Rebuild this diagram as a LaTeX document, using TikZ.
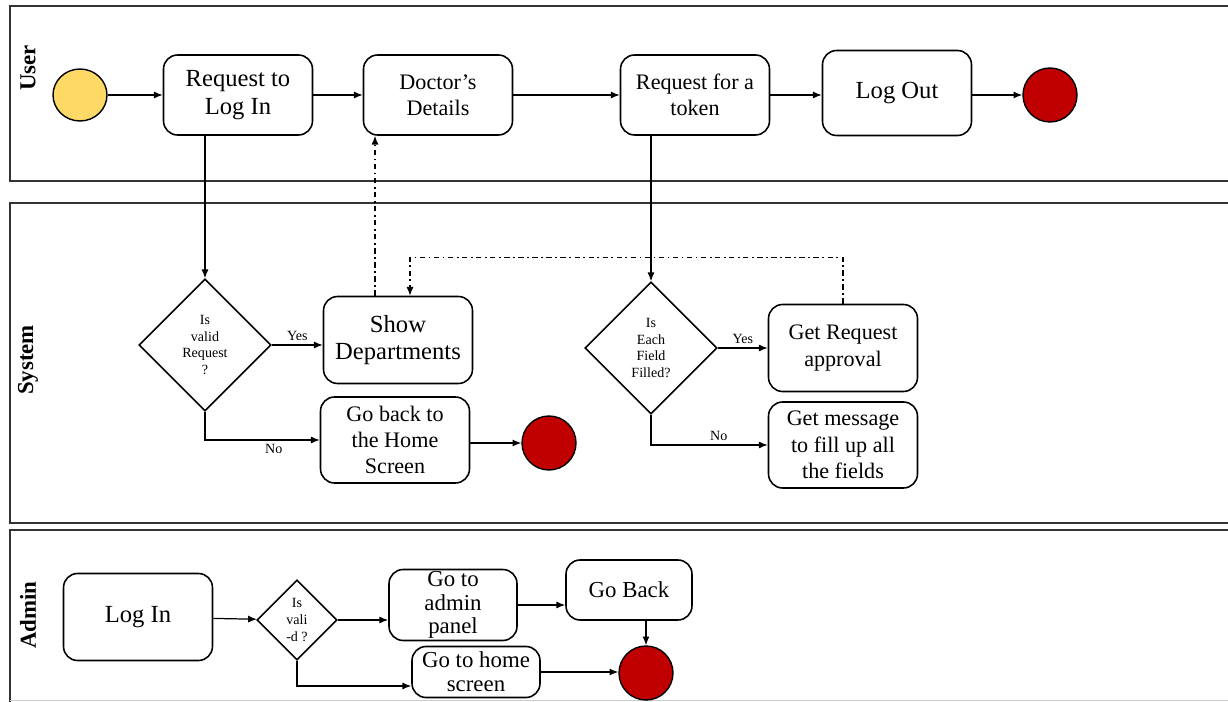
\documentclass[tikz,border=0pt]{standalone}
\usepackage{fontspec}
\setmainfont{Liberation Serif}
\usetikzlibrary{shapes.geometric,arrows.meta}
\definecolor{startyellow}{RGB}{255,217,102}
\definecolor{endred}{RGB}{192,0,0}

\begin{document}
\begin{tikzpicture}[x=0.02cm,y=-0.02cm,
		lane/.style={line width=1pt,draw=black!80},
		lanelabel/.style={rotate=90,font=\fontsize{13}{14}\selectfont\bfseries},
		box/.style={draw,line width=0.9pt,rounded corners=8pt,align=center,inner sep=1pt,
			font=\fontsize{14}{15.5}\selectfont,minimum width=2.98cm},
		boxsmalltext/.style={box,font=\fontsize{12.6}{15}\selectfont},
		smallbox/.style={box,font=\fontsize{13}{13.5}\selectfont,minimum width=2.56cm},
		decision/.style={draw,diamond,line width=0.9pt,align=center,inner sep=0pt,
			font=\fontsize{8}{9.5}\selectfont},
		startnode/.style={draw,ellipse,line width=0.8pt,fill=startyellow,minimum width=1.08cm,minimum height=1.04cm},
		endnode/.style={draw,circle,line width=0.8pt,fill=endred,minimum size=1.08cm},
		flow/.style={line width=0.7pt,-{Latex[length=5pt,width=4pt]}},
		msg/.style={flow,dash pattern=on 3pt off 2pt on 1pt off 2pt},
		lbl/.style={font=\fontsize{8}{9}\selectfont,inner sep=2pt}]
		\useasboundingbox (0,0) rectangle (1228,702);
		% lanes
		\draw[lane] (1228,6) -- (10,6) -- (10,181) -- (1228,181);
		\draw[lane] (1228,203) -- (10,203) -- (10,523) -- (1228,523);
		\draw[lane] (1228,530) -- (10,530) -- (10,702);
		\draw[gray!40,line width=0.5pt] (10,700) -- (1228,700);
		\node[lanelabel] (userlbl) at (28,68) {User};
		\node[lanelabel] (systemlbl) at (28,360) {System};
		\node[lanelabel] (adminlbl) at (28,615) {Admin};
		% user lane
		\node[startnode] (start) at (80,95) {};
		\node[box,minimum height=1.6cm] (login) at (238,95) {Request to\\Log In};
		\node[boxsmalltext,minimum height=1.6cm] (doctor) at (438,95) {Doctor’s\\Details};
		\node[boxsmalltext,minimum height=1.6cm] (token) at (695,95) {Request for a\\token};
		\node[box,minimum height=1.7cm] (logout) at (897,93) {Log Out};
		\node[endnode] (endA) at (1050,95) {};
		\draw[flow] (start) -- (login);
		\draw[flow] (login) -- (doctor);
		\draw[flow] (doctor) -- (token);
		\draw[flow] (token.east) -- (token.east -| logout.west);
		\draw[flow] (logout.east |- endA) -- (endA);
		% system lane
		\node[decision,minimum size=2.64cm] (valid) at (205,345) {Is\\valid\\Request\\?};
		\node[box,minimum height=1.74cm] (dept) at (398,340) {Show\\Departments};
		\node[boxsmalltext,minimum height=1.72cm] (back) at (395,440) {Go back to\\the Home\\Screen};
		\node[endnode] (endB) at (549,443) {};
		\node[decision,minimum size=2.64cm] (filled) at (651,348) {Is\\Each\\Field\\Filled?};
		\node[boxsmalltext,minimum height=1.74cm] (approve) at (843,348) {Get Request\\approval};
		\node[boxsmalltext,minimum height=1.72cm] (fillmsg) at (843,445) {Get message\\to fill up all\\the fields};
		\draw[flow] (valid.north |- login.south) -- (valid.north);
		\draw[flow] (valid.east) -- node[lbl,above] {Yes} (valid.east -| dept.west);
		\draw[flow] (valid.south) |- node[lbl,below,pos=0.8] {No} (back.west);
		\draw[flow] (back.east |- endB) -- (endB);
		\draw[msg] ([xshift=-0.46cm]dept.north) -- ([xshift=-0.46cm]dept.north |- doctor.south);
		\draw[flow] (filled.north |- token.south) -- (filled.north);
		\draw[flow] (filled.east) -- node[lbl,above] {Yes} (approve.west);
		\draw[flow] (filled.south) |- node[lbl,above,pos=0.79] {No} (fillmsg.west);
		\draw[msg] (approve.north) -- ++(0,-46) -| ([xshift=0.24cm]dept.north);
		% admin lane
		\node[box,minimum height=1.74cm] (adminlogin) at (138,617) {Log In};
		\node[decision,minimum size=1.6cm] (validadmin) at (297,620) {Is\\vali\\-d ?};
		\node[smallbox,minimum height=1.4cm] (panel) at (453,605) {Go to\\admin\\panel};
		\node[smallbox,minimum width=2.52cm,minimum height=1.2cm] (goback) at (629,590) {Go Back};
		\node[smallbox,minimum height=1.02cm] (home) at (476,672) {Go to home\\screen};
		\node[endnode] (endC) at (646,673) {};
		\draw[flow] (adminlogin) -- (validadmin);
		\draw[flow] (validadmin.east) -- (validadmin.east -| panel.west);
		\draw[flow] (panel.east) -- (panel.east -| goback.west);
		\draw[flow] (endC.north |- goback.south) -- (endC.north);
		\draw[flow] (validadmin.south) |- ([yshift=-0.28cm]home.west);
		\draw[flow] (home.east) -- (home.east -| endC.west);
	\end{tikzpicture}
\end{document}
